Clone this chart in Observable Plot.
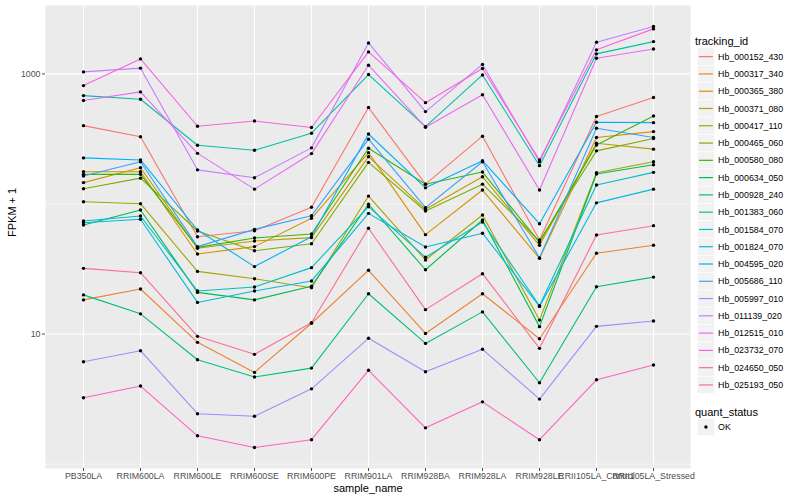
<!DOCTYPE html>
<html><head><meta charset="utf-8">
<script src="https://cdn.jsdelivr.net/npm/d3@7"></script>
<script src="https://cdn.jsdelivr.net/npm/@observablehq/plot@0.6"></script>
<style>
body{margin:0;background:#fff;font-family:"Liberation Sans",Arial,Helvetica,sans-serif;}
#wrap{position:relative;width:800px;height:500px;overflow:hidden;}
#legend{position:absolute;left:680px;top:0;}
</style></head><body><div id="wrap"></div>
<script>
const samples = ["PB350LA","RRIM600LA","RRIM600LE","RRIM600SE","RRIM600PE","RRIM901LA","RRIM928BA","RRIM928LA","RRIM928LE","RRII105LA_Control","RRII105LA_Stressed"];
const ids = ["Hb_000152_430","Hb_000317_340","Hb_000365_380","Hb_000371_080","Hb_000417_110","Hb_000465_060","Hb_000580_080","Hb_000634_050","Hb_000928_240","Hb_001383_060","Hb_001584_070","Hb_001824_070","Hb_004595_020","Hb_005686_110","Hb_005997_010","Hb_011139_020","Hb_012515_010","Hb_023732_070","Hb_024650_050","Hb_025193_050"];
const colors = ["#F8766D","#EA8331","#D89000","#C09B00","#A3A500","#7CAE00","#39B600","#00BB4E","#00BF7D","#00C1A3","#00BFC4","#00BAE0","#00B0F6","#35A2FF","#9590FF","#C77CFF","#E76BF3","#FA62DB","#FF62BC","#FF6C91"];

// FPKM + 1, in sample order
const hb_000152_430 = [400, 329, 56.0, 62.3, 94.4, 551, 142, 332, 52.8, 470, 658];
const hb_000317_340 = [18.3, 22.2, 8.63, 5.07, 12.1, 30.9, 10.1, 20.4, 9.2, 41.8, 48.1];
const hb_000365_380 = [177, 177, 41.2, 47.0, 77.6, 248, 58.1, 128, 38.2, 324, 360];
const hb_000371_080 = [146, 190, 45.6, 51.9, 55.1, 231, 91.0, 162, 48.1, 293, 264];
const hb_000417_110 = [104, 100.5, 30.3, 26.6, 22.7, 115, 37.1, 82.3, 12.8, 174, 211];
const hb_000465_060 = [131, 158, 62.0, 43.7, 49.5, 209, 88.3, 142, 51.9, 256, 319];
const hb_000580_080 = [169, 169, 46.4, 54.7, 58.7, 268, 142, 176, 50.7, 284, 475];
const hb_000634_050 = [68.9, 89.9, 20.9, 18.3, 23.3, 99.5, 31.2, 75.3, 11.4, 170, 200];
const hb_000928_240 = [20.0, 14.3, 6.34, 4.67, 5.47, 20.4, 8.47, 14.8, 4.22, 23.1, 27.4];
const hb_001383_060 = [681, 638, 283, 259, 350, 989, 393, 982, 197, 1426, 1771];
const hb_001584_070 = [74.0, 80.8, 21.4, 23.0, 32.4, 95.3, 38.9, 72.7, 16.5, 140, 175];
const hb_001824_070 = [71.8, 76.3, 17.5, 21.4, 25.6, 84.7, 46.7, 59.6, 16.3, 102, 130];
const hb_004595_020 = [226, 218, 63.1, 33.0, 56.0, 345, 133, 215, 70.5, 425, 422];
const hb_005686_110 = [164, 211, 47.0, 63.8, 81.3, 315, 93.8, 211, 38.5, 382, 324];
const hb_005997_010 = [6.12, 7.44, 2.44, 2.33, 3.79, 9.27, 5.13, 7.63, 3.16, 11.46, 12.6];
const hb_011139_020 = [1036, 1107, 183, 159, 270, 1730, 513, 1183, 211, 1753, 2312];
const hb_012515_010 = [624, 727, 245, 130, 244, 1166, 389, 692, 128, 1321, 1556];
const hb_023732_070 = [813, 1304, 396, 435, 387, 1476, 601, 1101, 218, 1531, 2219];
const hb_024650_050 = [3.24, 3.98, 1.65, 1.34, 1.54, 5.26, 1.90, 3.01, 1.54, 4.45, 5.78];
const hb_025193_050 = [32.0, 29.6, 9.6, 6.98, 12.2, 65.0, 15.4, 29.1, 7.76, 57.8, 68.1];

const seriesValues = [hb_000152_430, hb_000317_340, hb_000365_380, hb_000371_080, hb_000417_110, hb_000465_060, hb_000580_080, hb_000634_050, hb_000928_240, hb_001383_060, hb_001584_070, hb_001824_070, hb_004595_020, hb_005686_110, hb_005997_010, hb_011139_020, hb_012515_010, hb_023732_070, hb_024650_050, hb_025193_050];
const yMajorBreaks = [10, 1000];
const yMinorBreaks = [1, 100];
const quantStatus = ["OK"];

const rows = [];
ids.forEach((id, i) => seriesValues[i].forEach((v, j) => rows.push({id, sample: samples[j], value: v, status: quantStatus[0]})));

const FONT = "Liberation Sans, Arial, Helvetica, sans-serif";
const chart = Plot.plot({
  width: 800, height: 500,
  marginLeft: 45, marginRight: 110, marginTop: 5, marginBottom: 32,
  style: {fontFamily: FONT, fontSize: "8.8px", color: "#4D4D4D", background: "white", overflow: "visible"},
  x: {type: "point", domain: samples, padding: 0.6, label: null},
  y: {type: "log", domain: [0.925, 3357], label: null},
  color: {domain: ids, range: colors},
  marks: [
    Plot.frame({fill: "#EBEBEB"}),
    Plot.gridY(yMinorBreaks, {stroke: "white", strokeOpacity: 1, strokeWidth: 0.55}),
    Plot.gridY(yMajorBreaks, {stroke: "white", strokeOpacity: 1, strokeWidth: 1.1}),
    Plot.gridX({stroke: "white", strokeOpacity: 1, strokeWidth: 1.1}),
    Plot.line(rows, {x: "sample", y: "value", z: "id", stroke: "id", strokeWidth: 1.1}),
    Plot.dot(rows, {x: "sample", y: "value", fill: "black", r: 1.7}),
    Plot.axisY(yMajorBreaks, {tickSize: 3, tickPadding: 2, tickFormat: d => String(d), label: null}),
    Plot.axisX({tickSize: 3, tickPadding: 1.5, label: null}),
    Plot.text(["sample_name"], {text: d => d, frameAnchor: "bottom", dy: 23.5, fontSize: 11, fill: "black"}),
    Plot.text(["FPKM + 1"], {text: d => d, frameAnchor: "left", dx: -33, rotate: -90, fontSize: 11, fill: "black"})
  ]
});
document.getElementById("wrap").appendChild(chart);

// legend
const key = 17.28;
const lg = d3.select("#wrap").append("svg").attr("id", "legend")
  .attr("width", 120).attr("height", 500)
  .style("font-family", FONT);
lg.append("text").attr("x", 15).attr("y", 44.5).attr("font-size", 11).attr("fill", "black").text("tracking_id");
const items = lg.selectAll("g.item").data(ids).join("g").attr("class", "item")
  .attr("transform", (d, i) => `translate(17.3,${48 + i * key})`);
items.append("rect").attr("width", key).attr("height", key).attr("fill", "#F2F2F2").attr("stroke", "white").attr("stroke-width", 0.6);
items.append("line").attr("x1", 1.7).attr("x2", key - 1.7).attr("y1", key / 2).attr("y2", key / 2)
  .attr("stroke", (d, i) => colors[i]).attr("stroke-width", 1.2);
items.append("text").attr("x", key + 3.5).attr("y", key / 2).attr("dy", "0.35em").attr("font-size", 8.8).attr("fill", "black").text(d => d);

lg.append("text").attr("x", 15).attr("y", 416).attr("font-size", 11).attr("fill", "black").text("quant_status");
const qs = lg.selectAll("g.qs").data(quantStatus).join("g").attr("class", "qs")
  .attr("transform", (d, i) => `translate(17.3,${418.4 + i * key})`);
qs.append("rect").attr("width", key).attr("height", key).attr("fill", "#F2F2F2").attr("stroke", "white").attr("stroke-width", 0.6);
qs.append("circle").attr("cx", key / 2).attr("cy", key / 2).attr("r", 1.7).attr("fill", "black");
qs.append("text").attr("x", key + 3.5).attr("y", key / 2).attr("dy", "0.35em").attr("font-size", 8.8).attr("fill", "black").text(d => d);
</script></body></html>
